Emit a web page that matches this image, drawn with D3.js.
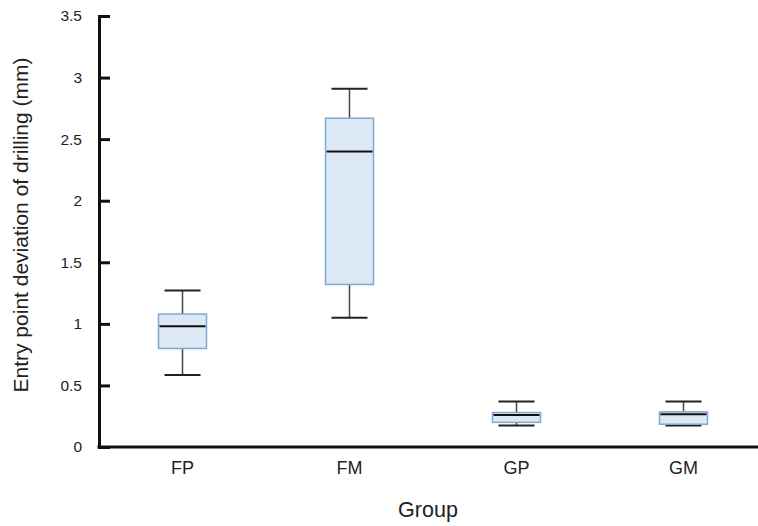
<!DOCTYPE html>
<html>
<head>
<meta charset="utf-8">
<script src="https://cdn.jsdelivr.net/npm/d3@7"></script>
<style>
  body { margin: 0; background: #fff; }
  text { font-family: "Liberation Sans", Arial, sans-serif; fill: #222; }
</style>
</head>
<body>
<svg id="chart" width="758" height="526"></svg>
<script>
// box plot stats per group
const groups = ["FP", "FM", "GP", "GM"];
const whiskerLow = [0.585, 1.05, 0.175, 0.175];
const q1 = [0.80, 1.32, 0.20, 0.185];
const median = [0.98, 2.40, 0.26, 0.265];
const q3 = [1.08, 2.67, 0.28, 0.285];
const whiskerHigh = [1.27, 2.91, 0.37, 0.37];
const yTicks = [0, 0.5, 1, 1.5, 2, 2.5, 3, 3.5];

const svg = d3.select('#chart');
const margin = { left: 99, top: 16, bottom: 447 };

const x = d3.scaleBand().domain(groups).range([margin.left, 767]);
const y = d3.scaleLinear().domain([0, 3.5]).range([margin.bottom, margin.top]);

// y axis
const yAxis = svg.append('g')
    .attr('transform', `translate(${margin.left},0)`)
    .call(d3.axisLeft(y).tickValues(yTicks).tickFormat(d3.format('')).tickSize(-11).tickPadding(17));
yAxis.select('.domain').attr('stroke', '#111').attr('stroke-width', 3);
yAxis.selectAll('.tick line').attr('stroke', '#111').attr('stroke-width', 3);
yAxis.selectAll('.tick text').style('font-size', '15.5px').attr('fill', '#222');

// x axis
const xAxis = svg.append('g')
    .attr('transform', `translate(0,${margin.bottom})`)
    .call(d3.axisBottom(x).tickSize(0).tickPadding(14));
xAxis.select('.domain').attr('stroke', '#111').attr('stroke-width', 3)
    .attr('d', `M${margin.left - 1.5},0H760`);
xAxis.selectAll('.tick text').style('font-size', '18px').attr('fill', '#222');

// boxes
const boxW = 48;
const data = groups.map((g, i) => ({
  g, lo: whiskerLow[i], q1: q1[i], med: median[i], q3: q3[i], hi: whiskerHigh[i]
}));

const box = svg.append('g').selectAll('g')
    .data(data)
    .join('g')
    .attr('transform', d => `translate(${x(d.g) + x.bandwidth() / 2},0)`);

box.append('line')
    .attr('y1', d => y(d.hi)).attr('y2', d => y(d.lo))
    .attr('stroke', '#444').attr('stroke-width', 1.5);

['hi', 'lo'].forEach(k => {
  box.append('line')
      .attr('x1', -18).attr('x2', 18)
      .attr('y1', d => y(d[k])).attr('y2', d => y(d[k]))
      .attr('stroke', '#222').attr('stroke-width', 2);
});

box.append('rect')
    .attr('x', -boxW / 2).attr('width', boxW)
    .attr('y', d => y(d.q3)).attr('height', d => y(d.q1) - y(d.q3))
    .attr('fill', '#dde8f5').attr('stroke', '#7ea9d3').attr('stroke-width', 1.5);

box.append('line')
    .attr('x1', -boxW / 2 + 1).attr('x2', boxW / 2 - 1)
    .attr('y1', d => y(d.med)).attr('y2', d => y(d.med))
    .attr('stroke', '#111').attr('stroke-width', 2);

// axis titles
svg.append('text')
    .attr('transform', 'translate(28,225) rotate(-90)')
    .attr('text-anchor', 'middle')
    .style('font-size', '21px')
    .text('Entry point deviation of drilling (mm)');

svg.append('text')
    .attr('x', 428).attr('y', 517)
    .attr('text-anchor', 'middle')
    .style('font-size', '21.5px')
    .text('Group');
</script>
</body>
</html>
